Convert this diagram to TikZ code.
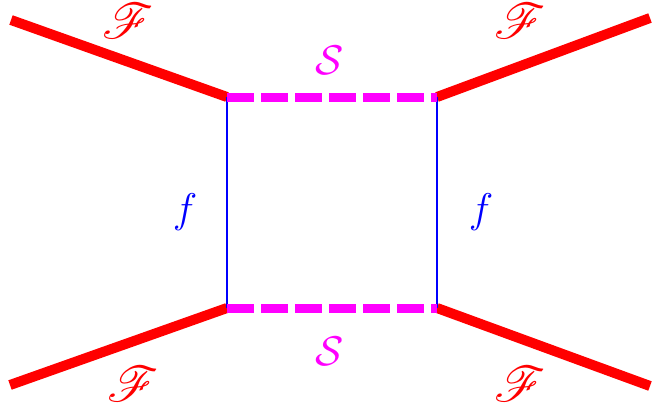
\documentclass[tikz,border=0pt]{standalone}
\usepackage{amsmath,amssymb}
\usepackage{mathrsfs}
\usepackage{tikz}
\usetikzlibrary{positioning,calc}
\usepackage{xcolor}
\definecolor{scalmag}{RGB}{255,0,255}
\definecolor{fermred}{RGB}{255,0,0}
\definecolor{propblue}{RGB}{0,0,255}

\begin{document}
\begin{tikzpicture}[
  x=0.5pt, y=-0.5pt,
  fermion/.style={draw=fermred, line width=5pt},
  scalar/.style={draw=scalmag, line width=4.5pt, dash pattern=on 13.5pt off 3.5pt},
  prop/.style={draw=propblue, line width=0.75pt},
  flab/.style={text=fermred, font=\Huge, inner sep=0pt},
  slab/.style={text=scalmag, font=\huge, inner sep=0pt},
  plab/.style={text=propblue, font=\huge, inner sep=0pt},
]
\useasboundingbox (0,0) rectangle (653,407);
% vertices of the box
\coordinate (tl) at (227,97);
\coordinate (tr) at (437,97);
\coordinate (bl) at (227,308);
\coordinate (br) at (437,308);
% external legs
\coordinate (ein1) at (11,20);
\coordinate (ein2) at (10,385);
\coordinate (eout1) at (650,18);
\coordinate (eout2) at (650,386);

\draw[fermion] (ein1) -- (tl);
\draw[fermion] (tr) -- (eout1);
\draw[fermion] (ein2) -- (bl);
\draw[fermion] (br) -- (eout2);
\draw[prop] (tl) -- (bl);
\draw[prop] (tr) -- (br);
\draw[scalar] (tl) -- (tr);
\draw[scalar] (bl) -- (br);

\node[flab, anchor=base, text height=12pt, text depth=2pt] (fa) at (128,39) {$\mathscr{F}$};
\node[flab, anchor=base, text height=12pt, text depth=2pt] (fb) at (520,39) {$\mathscr{F}$};
\node[flab] (fc) at (133,384) {$\mathscr{F}$};
\node[flab] (fd) at (520,384) {$\mathscr{F}$};
\node[slab] (sa) at (330,60) {$\mathcal{S}$};
\node[slab] (sb) at (330,351) {$\mathcal{S}$};
\node[plab] (pa) at (185,212) {$f$};
\node[plab] (pb) at (481,212) {$f$};
\end{tikzpicture}
\end{document}
